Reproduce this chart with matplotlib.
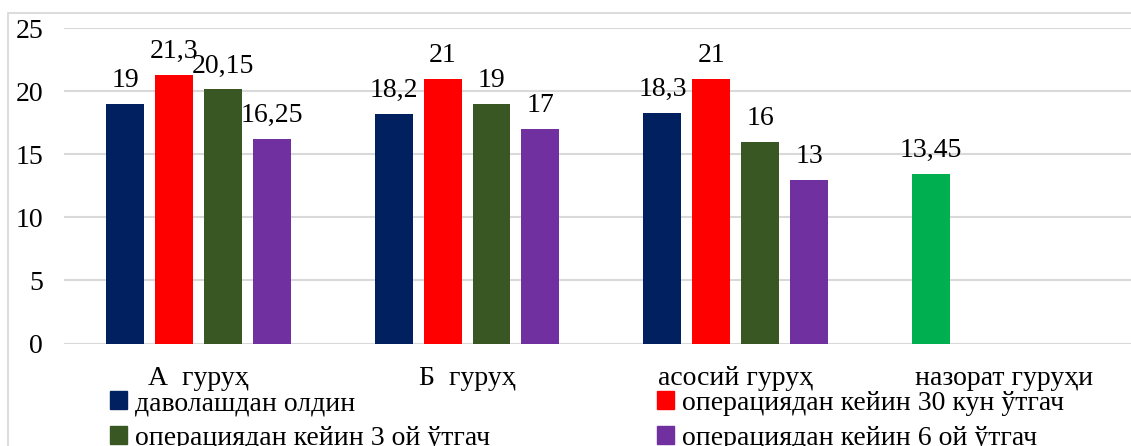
import matplotlib
matplotlib.use("Agg")
import matplotlib.pyplot as plt
from matplotlib.patches import Rectangle, Patch
import numpy as np

plt.rcParams['font.family'] = ['Liberation Serif', 'DejaVu Serif']

categories = ["А  гуруҳ", "Б  гуруҳ", "асосий гуруҳ", "назорат гуруҳи"]
series_names = ["даволашдан олдин",
                "операциядан кейин 30 кун ўтгач",
                "операциядан кейин 3 ой ўтгач",
                "операциядан кейин 6 ой ўтгач"]
s_before = [19, 18.2, 18.3, 13.45]
s_30d = [21.3, 21, 21, None]
s_3m = [20.15, 19, 16, None]
s_6m = [16.25, 17, 13, None]
labels_before = ["19", "18,2", "18,3", "13,45"]
labels_30d = ["21,3", "21", "21", None]
labels_3m = ["20,15", "19", "16", None]
labels_6m = ["16,25", "17", "13", None]
colors = ["#002060", "#FF0000", "#385723", "#7030A0"]
control_color = "#00B050"

W, H = 1131, 446
fig = plt.figure(figsize=(W / 100, H / 100), dpi=100)

# outer chart border
fig.patches.append(Rectangle((8 / W, -0.1), 1.2, (H - 13) / H + 0.1,
                             transform=fig.transFigure, fill=False,
                             edgecolor="#d9d9d9", linewidth=1.3))

left = 64 / W
bottom = (H - 343.5) / H
top = (H - 28.3) / H
ax = fig.add_axes([left, bottom, 1 - left, top - bottom])

step = 0.182
width = 0.141
x = np.arange(len(categories))
all_series = [s_before, s_30d, s_3m, s_6m]
all_labels = [labels_before, labels_30d, labels_3m, labels_6m]
fs = 20
for i, (vals, labs) in enumerate(zip(all_series, all_labels)):
    off = (i - 1.5) * step
    for j, v in enumerate(vals):
        if v is None:
            continue
        c = colors[i]
        if i == 0 and j == 3:
            c = control_color
        ax.bar(x[j] + off, v, width=width, color=c, zorder=3)
        ax.annotate(labs[j], (x[j] + off, v), xytext=(0, 12),
                    textcoords="offset points", ha="center", va="baseline",
                    fontsize=fs, color="black", zorder=4)

ax.set_ylim(0, 25)
ax.set_yticks([0, 5, 10, 15, 20, 25])
ax.set_xlim(-0.5, -0.5 + (W - 64) / 268.7)
ax.set_xticks(x)
ax.set_xticklabels(categories)
ax.tick_params(axis="both", length=0, labelsize=fs, colors="black")
ax.tick_params(axis="y", pad=15)
ax.tick_params(axis="x", pad=16)
ax.grid(axis="y", color="#d9d9d9", linewidth=1.5, zorder=0)
for s in ax.spines.values():
    s.set_visible(False)
ax.set_axisbelow(True)

handles = [Patch(color=c) for c in colors]
leg_kw = dict(frameon=False, fontsize=fs, handlelength=0.6, handleheight=0.6,
              handletextpad=0.3, labelspacing=0.35, borderpad=0, borderaxespad=0,
              loc="upper left")
leg1 = fig.legend([handles[0], handles[2]], [series_names[0], series_names[2]],
                  bbox_to_anchor=(110 / W, (H - 391) / H), **leg_kw)
leg2 = fig.legend([handles[1], handles[3]], [series_names[1], series_names[3]],
                  bbox_to_anchor=(657 / W, (H - 391) / H), **leg_kw)

fig.savefig("out.png", dpi=100)
